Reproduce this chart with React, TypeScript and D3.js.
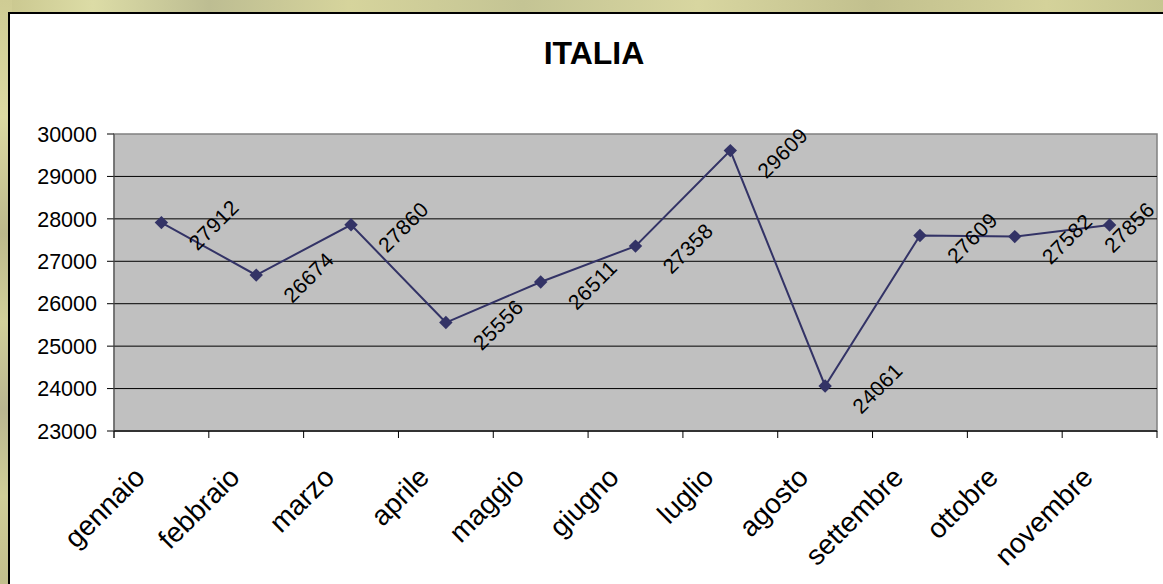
import { useMemo } from 'react';
import { scaleBand, scaleLinear, line, symbol, symbolSquare, range } from 'd3';

const months = [
  'gennaio',
  'febbraio',
  'marzo',
  'aprile',
  'maggio',
  'giugno',
  'luglio',
  'agosto',
  'settembre',
  'ottobre',
  'novembre',
];
const values = [27912, 26674, 27860, 25556, 26511, 27358, 29609, 24061, 27609, 27582, 27856];
const yTicks = [23000, 24000, 25000, 26000, 27000, 28000, 29000, 30000];
const title = 'ITALIA';

const W = 1163;
const H = 584;
const plot = { left: 114, top: 134, right: 1157, bottom: 431 };
const font = '"Liberation Sans", Arial, sans-serif';
const lineColor = '#333366';

const App = () => {
  const x = useMemo(
    () => scaleBand<string>().domain(months).range([plot.left, plot.right]).paddingInner(0).paddingOuter(0),
    [],
  );
  const y = useMemo(() => scaleLinear().domain([23000, 30000]).range([plot.bottom, plot.top]), []);

  const cx = (m: string) => (x(m) as number) + x.bandwidth() / 2;

  const path = line<number>()
    .x((_, i) => cx(months[i]))
    .y((d) => y(d))(values) as string;

  // square turned 45deg -> Excel-style diamond marker
  const diamond = symbol().type(symbolSquare).size(90)() as string;

  // category boundaries for the x-axis ticks
  const boundaries = range(months.length + 1).map((i) => plot.left + i * x.bandwidth());

  return (
    <svg
      width={W}
      height={H}
      style={{ position: 'absolute', left: 0, top: 0, display: 'block' }}
      fontFamily={font}
    >
      <defs>
        <linearGradient id="bgH" x1="0" x2="1" y1="0" y2="0">
          <stop offset="0" stopColor="#c9c68e" />
          <stop offset="0.08" stopColor="#dcdca6" />
          <stop offset="0.18" stopColor="#bdbd92" />
          <stop offset="0.3" stopColor="#d6d49c" />
          <stop offset="0.45" stopColor="#c4c494" />
          <stop offset="0.6" stopColor="#d8d6a0" />
          <stop offset="0.75" stopColor="#c2c08e" />
          <stop offset="0.9" stopColor="#d4d29a" />
          <stop offset="1" stopColor="#c6c690" />
        </linearGradient>
        <linearGradient id="bgV" x1="0" x2="0" y1="0" y2="1">
          <stop offset="0" stopColor="#cfcc94" />
          <stop offset="0.2" stopColor="#dcdaa2" />
          <stop offset="0.4" stopColor="#bcb98c" />
          <stop offset="0.55" stopColor="#d2d09a" />
          <stop offset="0.7" stopColor="#b9b690" />
          <stop offset="0.85" stopColor="#d0ce98" />
          <stop offset="1" stopColor="#c2be8c" />
        </linearGradient>
      </defs>

      {/* textured background */}
      <rect x={0} y={0} width={W} height={H} fill="url(#bgH)" />
      <rect x={0} y={0} width={12} height={H} fill="url(#bgV)" />

      {/* chart area */}
      <rect x={9} y={13} width={W + 10} height={H + 10} fill="#ffffff" stroke="#000000" strokeWidth={2} />

      <text x={594} y={64} textAnchor="middle" fontSize={32} fontWeight="bold" fill="#000">
        {title}
      </text>

      {/* plot area */}
      <rect
        x={plot.left}
        y={plot.top}
        width={plot.right - plot.left}
        height={plot.bottom - plot.top}
        fill="#c0c0c0"
        stroke="#808080"
        strokeWidth={1.5}
      />

      {/* grid lines + y axis */}
      {yTicks.map((t) => (
        <g key={t}>
          {t !== 23000 && t !== 30000 && (
            <line x1={plot.left} x2={plot.right} y1={y(t)} y2={y(t)} stroke="#000" strokeWidth={1} />
          )}
          <line x1={plot.left - 7} x2={plot.left} y1={y(t)} y2={y(t)} stroke="#000" strokeWidth={1} />
          <text x={97} y={y(t)} dy="0.36em" textAnchor="end" fontSize={21.5} fill="#000">
            {t}
          </text>
        </g>
      ))}
      <line x1={plot.left} x2={plot.left} y1={plot.top} y2={plot.bottom + 7} stroke="#555" strokeWidth={1} />

      {/* x axis */}
      <line x1={plot.left} x2={plot.right} y1={plot.bottom} y2={plot.bottom} stroke="#333" strokeWidth={2} />
      {boundaries.map((b, i) => (
        <line key={i} x1={b} x2={b} y1={plot.bottom} y2={plot.bottom + 7} stroke="#000" strokeWidth={1} />
      ))}
      {months.map((m) => (
        <text
          key={m}
          transform={`translate(${cx(m) - 15},${plot.bottom + 48}) rotate(-45)`}
          textAnchor="end"
          fontSize={28}
          fill="#000"
        >
          {m}
        </text>
      ))}

      {/* series */}
      <path d={path} fill="none" stroke={lineColor} strokeWidth={2} />
      {values.map((v, i) => (
        <path
          key={i}
          d={diamond}
          transform={`translate(${cx(months[i])},${y(v)}) rotate(45)`}
          fill={lineColor}
        />
      ))}

      {/* data labels, kept inside the chart on the right */}
      {values.map((v, i) => {
        const lx = Math.min(cx(months[i]) + 36, W - 50);
        return (
          <text
            key={i}
            transform={`translate(${lx},${y(v) + 29}) rotate(-45)`}
            fontSize={21}
            letterSpacing={0.5}
            fill="#000"
          >
            {v}
          </text>
        );
      })}
    </svg>
  );
};

export default App;
